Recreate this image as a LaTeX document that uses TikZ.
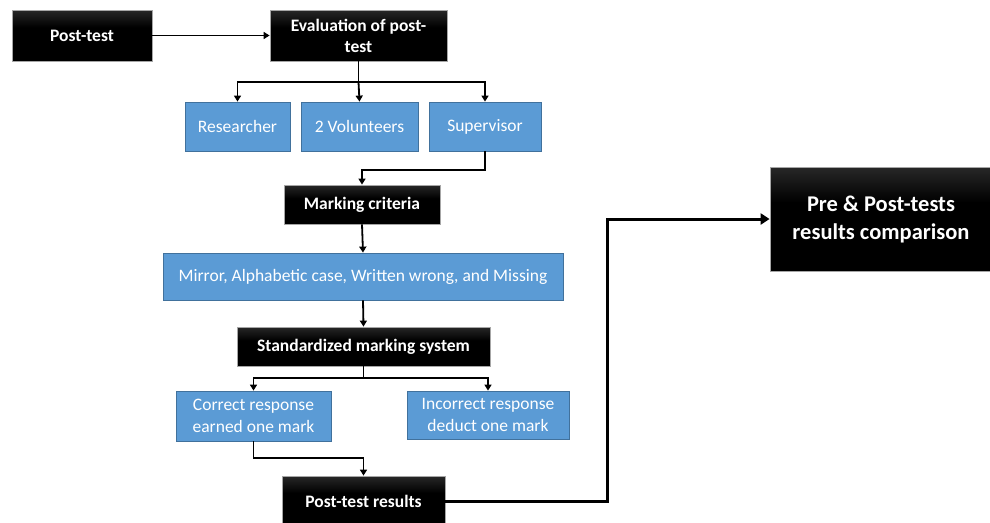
\documentclass[tikz,border=0pt]{standalone}
\usepackage{fontspec}
\setmainfont{Carlito}
\usetikzlibrary{arrows.meta}

\definecolor{boxblue}{HTML}{5B9BD5}
\definecolor{boxedge}{HTML}{41719C}
\pgfdeclareverticalshading{blackbox}{100bp}{color(0bp)=(black); color(58bp)=(black); color(100bp)=(black!62)}

\tikzset{
  darkbox/.style={rectangle, shading=blackbox, draw=black!35, line width=0.8pt,
    text=white, font=\bfseries\fontsize{17.5}{21}\selectfont, align=center, inner sep=0pt},
  bluebox/.style={rectangle, fill=boxblue, draw=boxedge, line width=0.8pt,
    text=white, font=\fontsize{17.5}{22}\selectfont, align=center, inner sep=0pt},
  link/.style={draw=black, line width=1.8pt, -{Triangle[width=7pt,length=6pt]}},
  plainlink/.style={draw=black, line width=1.8pt},
  biglink/.style={draw=black, line width=3pt, -{Triangle[width=11pt,length=9pt]}}
}

\begin{document}
\begin{tikzpicture}[x=1pt,y=-1pt]
\useasboundingbox (0,0) rectangle (990,522);

% top row
\node[darkbox, minimum width=140pt, minimum height=51pt] (post) at (82,35.5) {Post-test};
\node[darkbox, minimum width=177pt, minimum height=51pt] (eval) at (358.5,35.5) {Evaluation of post-\\test};

% evaluators
\node[bluebox, minimum width=105pt, minimum height=49pt] (resr) at (237.5,126.5) {Researcher};
\node[bluebox, minimum width=117pt, minimum height=49pt] (vol) at (359.5,126.5) {2 Volunteers};
\node[bluebox, minimum width=112pt, minimum height=49pt] (sup) at (485,126.5) {Supervisor};

% criteria
\node[darkbox, minimum width=156pt, minimum height=39pt] (mark) at (362,204.5) {Marking criteria};
\node[bluebox, minimum width=400pt, minimum height=47pt] (crit) at (363,276.5) {Mirror, Alphabetic case, Written wrong, and Missing};
\node[darkbox, minimum width=253pt, minimum height=39pt] (std) at (363.5,346.5) {Standardized marking system};

% responses
\node[bluebox, minimum width=155pt, minimum height=50pt] (corr) at (253.5,416) {Correct response\\earned one mark};
\node[bluebox, minimum width=162pt, minimum height=48pt] (inc) at (488,415) {Incorrect response\\deduct one mark};

% results
\node[darkbox, minimum width=163pt, minimum height=50pt] (res) at (363.5,501) {Post-test results};
\node[darkbox, minimum width=222pt, minimum height=104pt,
      font=\bfseries\fontsize{22.5}{28}\selectfont] (cmp) at (881,219) {Pre \& Post-tests\\results comparison};

% junction points
\coordinate (j1) at (0,82);
\coordinate (j2) at (0,170);
\coordinate (j3) at (0,378);
\coordinate (j4) at (0,458);
\coordinate (j5) at (607,0);

% connectors
\draw[link] (post.east) -- (eval.west);
\draw[plainlink] (eval.south) -- (eval.south |- j1);
\draw[link] (eval.south |- j1) -| (resr.north);
\draw[link] (eval.south |- j1) -- (vol.north);
\draw[link] (eval.south |- j1) -| (sup.north);
\draw[link] (sup.south) -- (sup.south |- j2) -| (mark.north);
\draw[link] (mark.south) -- (crit.north);
\draw[link] (crit.south) -- (std.north);
\draw[plainlink] (std.south) -- (std.south |- j3);
\draw[link] (std.south |- j3) -| (corr.north);
\draw[link] (std.south |- j3) -| (inc.north);
\draw[link] (corr.south) -- (corr.south |- j4) -| (res.north);
\draw[biglink] (res.east) -- (res.east -| j5) |- (cmp.west);
\end{tikzpicture}
\end{document}
